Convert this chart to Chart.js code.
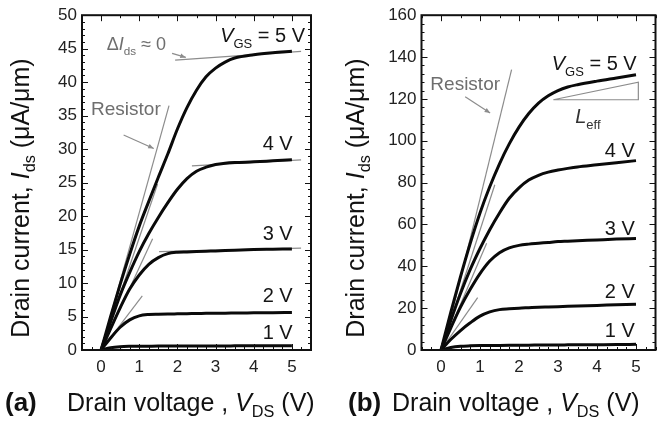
<!DOCTYPE html>
<html><head><meta charset="utf-8">
<script src="https://cdn.jsdelivr.net/npm/chart.js@4.4.1/dist/chart.umd.min.js"></script>
<style>
html,body{margin:0;padding:0;background:#fff;}
#wrap{position:relative;width:670px;height:426px;overflow:hidden;font-family:"Liberation Sans",Arial,sans-serif;color:#111;}
canvas{position:absolute;top:0;}
.yt{position:absolute;width:400px;height:30px;line-height:30px;text-align:center;font-size:25px;transform:rotate(-90deg);white-space:nowrap;}
.xt{position:absolute;top:390px;font-size:25px;line-height:25px;white-space:nowrap;}
.pl{position:absolute;top:390px;font-size:26px;line-height:25px;font-weight:bold;white-space:nowrap;}
sub{font-size:0.65em;vertical-align:-0.35em;line-height:0;}
</style></head><body>
<div id="wrap">
<canvas id="ca" width="335" height="426" style="left:0"></canvas>
<canvas id="cb" width="335" height="426" style="left:335px"></canvas>
<div class="yt" style="left:-180px;top:183px">Drain current, <i>I</i><sub>ds</sub> (μA/μm)</div>
<div class="yt" style="left:155px;top:183px">Drain current, <i>I</i><sub>ds</sub> (μA/μm)</div>
<div class="pl" style="left:5px">(a)</div>
<div class="xt" style="left:67px">Drain voltage , <i>V</i><sub>DS</sub> (V)</div>
<div class="pl" style="left:348px">(b)</div>
<div class="xt" style="left:392px">Drain voltage , <i>V</i><sub>DS</sub> (V)</div>
</div>
<script>
// ---- data ----
const vds = [0,0.25,0.5,0.75,1,1.25,1.5,1.75,2,2.25,2.5,2.75,3,3.25,3.5,4,4.5,5];
// panel (a)
const aVgs5 = [0,5.0,9.8,14.3,18.5,22.2,25.8,29.3,33.0,36.2,38.8,40.8,42.1,43.0,43.6,44.1,44.4,44.6];
const aVgs4 = [0,4.2,8.2,11.6,14.7,17.4,19.8,22.0,24.0,25.6,26.7,27.3,27.7,27.9,28.0,28.1,28.25,28.4];
const aVgs3 = [0,3.2,6.3,9.1,11.2,12.8,13.8,14.4,14.6,14.65,14.7,14.75,14.8,14.85,14.9,15.0,15.05,15.1];
const aVgs2 = [0,1.8,3.4,4.5,5.1,5.3,5.35,5.38,5.4,5.42,5.45,5.47,5.5,5.5,5.52,5.55,5.58,5.6];
const aVgs1 = [0,0.35,0.5,0.55,0.56,0.57,0.58,0.58,0.59,0.6,0.6,0.6,0.61,0.61,0.62,0.63,0.64,0.65];
// panel (b)
const bVgs5 = [0,18,35,51,65.5,78,89,98.5,106.5,113,118,121.5,124,125.7,126.8,128.5,130,131.5];
const bVgs4 = [0,14,27,38.5,48.5,57.5,65.5,72.5,77.5,81.2,83.5,85,86,86.8,87.5,88.5,89.5,90.5];
const bVgs3 = [0,10.5,20.5,29,36.5,42.5,46.5,48.8,50,50.6,51,51.4,51.8,52,52.2,52.6,53,53.3];
const bVgs2 = [0,5,9.3,13,16.2,18.2,19.3,19.7,20,20.2,20.4,20.55,20.7,20.85,21,21.3,21.6,21.9];
const bVgs1 = [0,1.2,1.8,2.0,2.1,2.15,2.2,2.25,2.3,2.32,2.35,2.38,2.4,2.45,2.5,2.55,2.6,2.7];
// grey guide lines [V, I] points
const aGuides = [
  [[0,0],[1.78,36.5]],
  [[0,0],[1.48,24.8]],
  [[0,0],[1.35,16.6]],
  [[0,0],[1.08,8.1]],
  [[1.94,43.3],[5.24,44.6]],
  [[2.38,27.5],[5.24,28.4]],
  [[1.52,14.7],[5.24,15.2]]
];
const bGuides = [
  [[0.05,0],[1.81,134]],
  [[0,0],[1.38,79]],
  [[0,0],[1.17,51]],
  [[0,0],[0.94,25]],
  [[2.88,119.6],[5.06,119.6],[5.06,128],[2.88,119.6]]
];
// tick labels
const xTickVals = [0,1,2,3,4,5];
const aYTickVals = [0,5,10,15,20,25,30,35,40,45,50];
const bYTickVals = [0,20,40,60,80,100,120,140,160];
// curve labels
const curveLabels = ['1 V','2 V','3 V','4 V'];

const FONT = '"Liberation Sans", Arial, sans-serif';

function drawRich(ctx, parts, x, y, size, align, color){
  const fontFor = k => (k==='i'?'italic ':'') + (k==='s'? (size*0.65).toFixed(1):size) + 'px ' + FONT;
  let w = 0;
  parts.forEach(([t,k])=>{ ctx.font = fontFor(k); w += ctx.measureText(t).width; });
  let cx = align==='right' ? x - w : align==='center' ? x - w/2 : x;
  ctx.fillStyle = color; ctx.textBaseline = 'alphabetic'; ctx.textAlign = 'left';
  parts.forEach(([t,k])=>{ ctx.font = fontFor(k); ctx.fillText(t, cx, y + (k==='s'? size*0.3 : 0)); cx += ctx.measureText(t).width; });
}

function arrow(ctx, x1,y1,x2,y2,color){
  ctx.strokeStyle=color; ctx.fillStyle=color; ctx.lineWidth=1.2;
  ctx.beginPath(); ctx.moveTo(x1,y1); ctx.lineTo(x2,y2); ctx.stroke();
  const a = Math.atan2(y2-y1,x2-x1), L=6;
  ctx.beginPath(); ctx.moveTo(x2,y2);
  ctx.lineTo(x2-L*Math.cos(a-0.4), y2-L*Math.sin(a-0.4));
  ctx.lineTo(x2-L*Math.cos(a+0.4), y2-L*Math.sin(a+0.4));
  ctx.closePath(); ctx.fill();
}

function makePanel(id, p){
  const curves = [p.c1,p.c2,p.c3,p.c4,p.c5].map(arr=>({
    data: vds.map((v,k)=>({x:v,y:arr[k]})),
    borderColor:'#0a0a0a', borderWidth:3, pointRadius:0, fill:false,
    cubicInterpolationMode:'monotone', order:0
  }));
  const guides = p.guides.map(seg=>({
    data: seg.map(([v,i])=>({x:v,y:i})),
    borderColor:'#8c8c8c', borderWidth:1.2, pointRadius:0, fill:false, tension:0, order:1
  }));
  const frame = {
    id:'frame',
    afterDraw(chart){
      const {ctx, chartArea:{left,right,top,bottom}, scales:{x,y}} = chart;
      ctx.save();
      ctx.strokeStyle='#111'; ctx.lineWidth=1;
      for(let k=-2;k<=22;k++){
        const v=k/4, px=Math.round(x.getPixelForValue(v))+0.5;
        const maj = k%4===0, half = k%2===0;
        ctx.beginPath(); ctx.moveTo(px,bottom); ctx.lineTo(px,bottom-(maj?6:3)); ctx.stroke();
        if(half){ ctx.beginPath(); ctx.moveTo(px,top); ctx.lineTo(px,top+(maj?6:3)); ctx.stroke(); }
      }
      for(let v=p.ymin; v<=p.ymax+1e-6; v+=p.yMinor){
        const py=Math.round(y.getPixelForValue(v))+0.5;
        const maj = Math.abs(v/p.yMajor-Math.round(v/p.yMajor))<1e-6;
        const len = maj?6:3;
        ctx.beginPath(); ctx.moveTo(left,py); ctx.lineTo(left+len,py); ctx.stroke();
        ctx.beginPath(); ctx.moveTo(right,py); ctx.lineTo(right-len,py); ctx.stroke();
      }
      ctx.lineWidth=2; ctx.strokeStyle='#111';
      ctx.strokeRect(left,top,right-left,bottom-top);
      // annotations
      p.labels.forEach(L=>{
        drawRich(ctx, L.parts, x.getPixelForValue(L.v), y.getPixelForValue(L.i), L.size, L.align, L.color);
      });
      p.arrows.forEach(A=>{
        arrow(ctx, x.getPixelForValue(A[0]), y.getPixelForValue(A[1]), x.getPixelForValue(A[2]), y.getPixelForValue(A[3]), '#8c8c8c');
      });
      ctx.restore();
    }
  };
  return new Chart(document.getElementById(id), {
    type:'line',
    data:{datasets:[...curves, ...guides]},
    options:{
      responsive:false, animation:false, devicePixelRatio:1,
      layout:{padding:{left:p.padL, right:p.padR, top:15, bottom:46}},
      plugins:{legend:{display:false}, tooltip:{enabled:false}},
      scales:{
        x:{type:'linear', min:-0.5, max:5.5,
           afterBuildTicks:s=>{ s.ticks = xTickVals.map(v=>({value:v})); },
           afterFit:s=>{ s.height=30; },
           grid:{display:false, drawTicks:false}, border:{display:false},
           ticks:{font:{size:17, family:FONT}, color:'#222', padding:7, maxRotation:0, autoSkip:false}},
        y:{type:'linear', min:p.ymin, max:p.ymax,
           afterBuildTicks:s=>{ s.ticks = p.yTicks.map(v=>({value:v})); },
           afterFit:s=>{ s.width=40; },
           grid:{display:false, drawTicks:false}, border:{display:false},
           ticks:{font:{size:17, family:FONT}, color:'#222', padding:5, autoSkip:false}}
      }
    },
    plugins:[frame]
  });
}

const txt = '#151515', grey = '#6e6e6e';
makePanel('ca', {
  c1:aVgs1, c2:aVgs2, c3:aVgs3, c4:aVgs4, c5:aVgs5, guides:aGuides,
  ymin:0, ymax:50, yMinor:1, yMajor:5, yTicks:aYTickVals, padL:42, padR:24,
  labels:[
    {parts:[['V','i'],['GS','s'],[' = 5 V','n']], v:3.12, i:46.0, size:20, align:'left', color:txt},
    {parts:[[curveLabels[3],'n']], v:5.02, i:29.9, size:20, align:'right', color:txt},
    {parts:[[curveLabels[2],'n']], v:5.02, i:16.4, size:20, align:'right', color:txt},
    {parts:[[curveLabels[1],'n']], v:5.02, i:7.2, size:20, align:'right', color:txt},
    {parts:[[curveLabels[0],'n']], v:5.02, i:1.6, size:20, align:'right', color:txt},
    {parts:[['Resistor','n']], v:0.65, i:35.1, size:19, align:'center', color:grey},
    {parts:[['Δ','n'],['I','i'],['ds','s'],[' ≈ 0','n']], v:0.15, i:44.8, size:18, align:'left', color:grey}
  ],
  arrows:[[0.59,32.1,1.38,30.1],[1.86,44.3,2.22,43.7]]
});
makePanel('cb', {
  c1:bVgs1, c2:bVgs2, c3:bVgs3, c4:bVgs4, c5:bVgs5, guides:bGuides,
  ymin:0, ymax:160, yMinor:4, yMajor:20, yTicks:bYTickVals, padL:46.5, padR:14.5,
  labels:[
    {parts:[['V','i'],['GS','s'],[' = 5 V','n']], v:2.84, i:133.7, size:20, align:'left', color:txt},
    {parts:[[curveLabels[3],'n']], v:4.97, i:92.2, size:20, align:'right', color:txt},
    {parts:[[curveLabels[2],'n']], v:4.97, i:54.9, size:20, align:'right', color:txt},
    {parts:[[curveLabels[1],'n']], v:4.97, i:24.8, size:20, align:'right', color:txt},
    {parts:[[curveLabels[0],'n']], v:4.97, i:6.4, size:20, align:'right', color:txt},
    {parts:[['Resistor','n']], v:0.62, i:124.2, size:19, align:'center', color:grey},
    {parts:[['L','i'],['eff','s']], v:3.44, i:108.4, size:20, align:'left', color:'#333'}
  ],
  arrows:[[0.62,121,1.26,113.3]]
});
</script>
</body></html>
